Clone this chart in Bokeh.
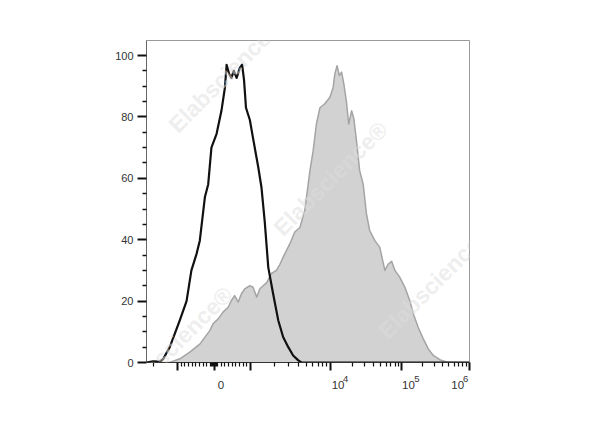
import math
from bokeh.plotting import figure
from bokeh.models import Range1d, FixedTicker, Label, LinearAxis
from bokeh.embed import file_html
from bokeh.resources import INLINE

# ---------------- data (display channel 0..1000 on a biexponential axis) -------------
bins_iso = [0, 20, 41, 52, 72, 103, 124, 139, 155, 165, 181, 191, 201, 217, 232, 243, 248,
            256, 263, 270, 279, 289, 296, 302, 308, 320, 330, 346, 356, 366, 377, 392, 408,
            423, 439, 454, 470, 480, 1000]
counts_iso = [0, 0.4, 0.3, 1.2, 5, 13.7, 20, 30, 35.4, 39.7, 54, 58, 70, 74.5, 82, 89.7, 97,
              94, 92.7, 95, 92.7, 96, 97, 92, 83, 79, 73, 63.6, 57, 46, 31, 22.4, 13.7,
              8.3, 5, 2.3, 0.7, 0, 0]

bins_stain = [0, 72, 103, 134, 165, 196, 206, 222, 237, 253, 263, 273, 284, 294, 304, 320,
              330, 341, 351, 361, 372, 387, 402, 413, 428, 444, 459, 475, 490, 506, 516, 526,
              537, 552, 568, 578, 583, 590, 597, 604, 611, 619, 626, 635, 642, 650, 660, 671,
              681, 691, 707, 722, 738, 748, 759, 769, 784, 800, 815, 826, 841, 857, 872, 888,
              908, 929, 960, 1000]
counts_stain = [0, 0, 1.2, 3.4, 6, 10.4, 12.6, 14.2, 16.4, 18, 20.2, 21.8, 19.7, 22.4, 24, 25,
                24.5, 21.3, 24, 25, 26, 29, 30, 32, 35.4, 38.7, 42.5, 44, 49.5, 62.5, 69, 77.7,
                83, 84.3, 86.4, 89.7, 94, 96.7, 93.5, 94.6, 90.8, 85, 77.7, 82, 79.4, 72.3,
                62.5, 58, 48.4, 43, 39.7, 37.6, 30, 32, 33, 30, 27.8, 24.5, 20.2, 15.9, 11.5,
                7.7, 4.5, 2.3, 0.9, 0.2, 0, 0]

y_major = [0, 20, 40, 60, 80, 100]
y_minor_step = 5
x_major_values = [-1000, 0, 1000, 1e4, 1e5, 1e6]
x_label_values = [0, 1e4, 1e5, 1e6]
x_label_base = ["0", "10", "10", "10"]
x_label_exp = ["", "4", "5", "6"]

watermark_text = "Elabscience\u00ae"

# ---------------- biexponential display transform -----------------------------------
CENTER = 209.0
LIN_HALF = 113.0          # display units from 0 to 10^3
DECADES = [(3, 322.0), (4, 570.0), (5, 791.0), (6, 999.0)]


def disp(v):
    a = abs(v)
    if a <= 1000:
        return CENTER + LIN_HALF * v / 1000.0
    lg = math.log10(a)
    d = DECADES[-1][1]
    for (e0, c0), (e1, c1) in zip(DECADES[:-1], DECADES[1:]):
        if e0 <= lg <= e1:
            d = c0 + (lg - e0) * (c1 - c0)
            break
    return d if v > 0 else 2 * CENTER - d


minor_vals = []
for k in range(1, 10):
    minor_vals += [k * 10, -k * 10, k * 100, -k * 100]
    if k > 1:
        minor_vals += [k * 1e3, k * 1e4, k * 1e5, -k * 1e3]
x_major = [round(disp(v), 3) for v in x_major_values]
x_minor = sorted(d for d in (disp(v) for v in minor_vals) if 0 <= d <= 1000)

# ---------------- figure -------------------------------------------------------------
W, H = 592, 419
FL, FT, FR, FB = 146, 40, 469, 362       # frame edges on the canvas
PX_PER_UNIT = (FR - FL) / 1000.0
p = figure(width=W, height=H, x_range=Range1d(0, 1000), y_range=Range1d(0, 104.9),
           output_backend="svg", toolbar_location=None,
           min_border_left=FL, min_border_right=W - FR, min_border_top=FT,
           min_border_bottom=H - FB)
p.grid.visible = False
p.outline_line_color = "#9a9a9a"
p.outline_line_width = 1
p.background_fill_color = "white"
p.border_fill_color = "white"

p.varea(x=bins_stain, y1=0, y2=counts_stain, fill_color="#d2d2d2")
p.line(x=bins_stain, y=counts_stain, line_color="#a4a4a4", line_width=1.5, line_join="round")
p.line(x=bins_iso, y=counts_iso, line_color="#111111", line_width=2.2, line_join="round")

xa = p.xaxis[0]
xa.ticker = FixedTicker(ticks=x_major, minor_ticks=x_minor)
xa.major_label_overrides = {t: "" for t in x_major}
xa.major_label_text_font_size = "1px"
xa.major_label_standoff = 0
xa.axis_line_color = "#333333"
xa.major_tick_line_color = "#111111"
xa.minor_tick_line_color = "#111111"
xa.major_tick_out = 8
xa.major_tick_in = 0
xa.minor_tick_out = 4
xa.minor_tick_in = 0
xa.major_tick_line_width = 2
xa.minor_tick_line_width = 1.2


def label_axis(texts, values, dx_px, size, standoff):
    pos = [round(disp(v) + dx / PX_PER_UNIT, 2) for v, dx, t in zip(values, dx_px, texts) if t]
    txt = [t for t in texts if t]
    ax = LinearAxis(ticker=FixedTicker(ticks=pos, minor_ticks=[]),
                    major_label_overrides={q: t for q, t in zip(pos, txt)})
    ax.axis_line_color = None
    ax.major_tick_line_color = None
    ax.minor_tick_line_color = None
    ax.major_label_standoff = standoff
    ax.major_label_text_font = "Liberation Sans"
    ax.major_label_text_font_size = size
    ax.major_label_text_color = "#333333"
    p.add_layout(ax, "below")


# exponents first (closer to the frame), then the bases, offset beside their ticks
label_axis(x_label_exp, x_label_values, [0, 15, 15, -3.5], "9.5px", -1)
label_axis(x_label_base, x_label_values, [7, 7.5, 6.5, -11.5], "11.5px", -10)

ya = p.yaxis[0]
ya.ticker = FixedTicker(ticks=y_major,
                        minor_ticks=[v for v in range(0, 105, y_minor_step) if v not in y_major])
ya.axis_line_color = "#666666"
ya.major_tick_line_color = "#111111"
ya.minor_tick_line_color = "#111111"
ya.major_tick_out = 9
ya.major_tick_in = 0
ya.minor_tick_out = 4
ya.minor_tick_in = 0
ya.major_tick_line_width = 2.2
ya.minor_tick_line_width = 1.3
ya.major_label_standoff = 4
ya.major_label_text_font = "Liberation Sans"
ya.major_label_text_font_size = "11px"
ya.major_label_text_color = "#333333"

# watermarks that cross the plotting frame (canvas pixel centres, from the top-left)
wm_centres = [(225, 75), (330, 178), (435, 281), (175, 343)]
for px, py in wm_centres:
    p.add_layout(Label(x=(px - FL) / PX_PER_UNIT, y=(FB - py) / 3.07,
                       text=watermark_text, angle=45, angle_units="deg",
                       text_align="center", text_baseline="middle",
                       text_font="Liberation Sans", text_font_style="bold",
                       text_font_size="23px", text_color="#dddddd", text_alpha=0.5))

open("out.html", "w").write(file_html(p, INLINE))
